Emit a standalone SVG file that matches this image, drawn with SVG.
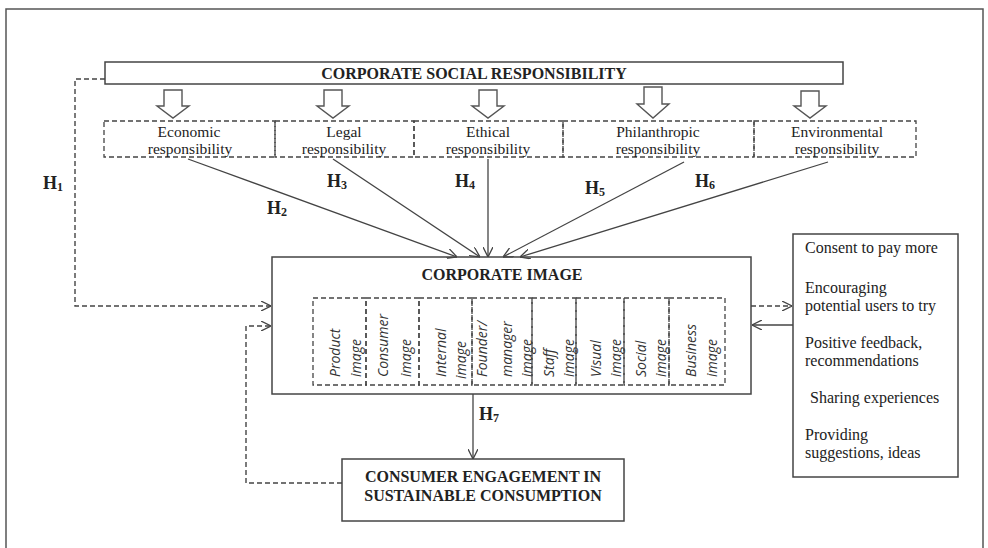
<svg xmlns="http://www.w3.org/2000/svg" width="988" height="548" viewBox="0 0 988 548">
<style>
  .bg{fill:#fff}
  .frame{fill:none;stroke:#555;stroke-width:1.5}
  .box{fill:#fff;stroke:#444;stroke-width:1.5}
  .dbox{fill:none;stroke:#444;stroke-width:1.3;stroke-dasharray:5,3}
  .harrow{fill:#fff;stroke:#555;stroke-width:1.4}
  .ln{fill:none;stroke:#444;stroke-width:1.3}
  .dl{fill:none;stroke:#444;stroke-width:1.4;stroke-dasharray:5,3}
  .t{font-family:"Liberation Serif","Times New Roman",serif;fill:#222}
  .b{font-weight:bold;font-size:16px}
  .r{font-size:15.5px}
  .h{font-family:"Liberation Serif","Times New Roman",serif;font-weight:bold;font-size:18px;fill:#222}
  .sub{font-size:12px}
  .v{font-family:"Open Sans","Noto Sans",sans-serif;font-style:italic;font-size:14px;fill:#333}
</style>
<defs>
  <marker id="arr" viewBox="0 0 10 10" refX="10" refY="5" markerWidth="10" markerHeight="10" orient="auto" markerUnits="userSpaceOnUse">
    <path d="M0,0 L10,5 L0,10" fill="none" stroke="#444" stroke-width="1.3"/>
  </marker>
</defs>
<rect class="bg" x="0" y="0" width="988" height="548"/>
<path class="frame" d="M6,560 V9 H983 V560"/>

<g id="csr">
  <rect class="box" x="105" y="62" width="738" height="22"/>
  <text class="t b" x="474" y="79" text-anchor="middle">CORPORATE SOCIAL RESPONSIBILITY</text>
</g>

<g id="csr-arrows">
  <path class="harrow" d="M164,90 H182 V106 H189 L173,118 L157,106 H164 Z"/>
  <path class="harrow" d="M324,90 H342 V106 H349 L333,118 L317,106 H324 Z"/>
  <path class="harrow" d="M479,90 H497 V106 H504 L488,118 L472,106 H479 Z"/>
  <path class="harrow" d="M644,87 H662 V104 H669 L653,118 L637,104 H644 Z"/>
  <path class="harrow" d="M801,91 H819 V106 H826 L810,118 L794,106 H801 Z"/>
</g>

<g id="economic">
  <rect class="dbox" x="104" y="121" width="171" height="36"/>
  <text class="t r" x="189" y="137" text-anchor="middle">Economic</text>
  <text class="t r" x="190" y="154" text-anchor="middle">responsibility</text>
</g>
<g id="legal">
  <rect class="dbox" x="275" y="121" width="139" height="36"/>
  <text class="t r" x="344" y="137" text-anchor="middle">Legal</text>
  <text class="t r" x="344" y="154" text-anchor="middle">responsibility</text>
</g>
<g id="ethical">
  <rect class="dbox" x="414" y="121" width="149" height="36"/>
  <text class="t r" x="488" y="137" text-anchor="middle">Ethical</text>
  <text class="t r" x="488" y="154" text-anchor="middle">responsibility</text>
</g>
<g id="philanthropic">
  <rect class="dbox" x="563" y="121" width="191" height="36"/>
  <text class="t r" x="658" y="137" text-anchor="middle">Philanthropic</text>
  <text class="t r" x="658" y="154" text-anchor="middle">responsibility</text>
</g>
<g id="environmental">
  <rect class="dbox" x="754" y="121" width="162" height="36"/>
  <text class="t r" x="837" y="137" text-anchor="middle">Environmental</text>
  <text class="t r" x="837" y="154" text-anchor="middle">responsibility</text>
</g>

<g id="corporate-image">
  <rect class="box" x="272" y="257" width="479" height="137"/>
  <text class="t b" x="502" y="280" text-anchor="middle">CORPORATE IMAGE</text>
  <g id="img-product">
    <rect class="dbox" x="313" y="298" width="53" height="87"/>
    <text class="v" transform="translate(340,377) rotate(-90)">Product</text>
    <text class="v" transform="translate(361,377) rotate(-90)">image</text>
  </g>
  <g id="img-consumer">
    <rect class="dbox" x="366" y="298" width="53" height="87"/>
    <text class="v" transform="translate(388,377) rotate(-90)">Consumer</text>
    <text class="v" transform="translate(411,377) rotate(-90)">image</text>
  </g>
  <g id="img-internal">
    <rect class="dbox" x="419" y="298" width="53" height="87"/>
    <text class="v" transform="translate(446,377) rotate(-90)">Internal</text>
    <text class="v" transform="translate(466,379) rotate(-90)">image</text>
  </g>
  <g id="img-founder">
    <rect class="dbox" x="472" y="298" width="60" height="87"/>
    <text class="v" transform="translate(487,377) rotate(-90)">Founder/</text>
    <text class="v" transform="translate(512,377) rotate(-90)">manager</text>
    <text class="v" transform="translate(532,377) rotate(-90)">image</text>
  </g>
  <g id="img-staff">
    <rect class="dbox" x="532" y="298" width="44" height="87"/>
    <text class="v" transform="translate(554,377) rotate(-90)">Staff</text>
    <text class="v" transform="translate(574,377) rotate(-90)">image</text>
  </g>
  <g id="img-visual">
    <rect class="dbox" x="576" y="298" width="48" height="87"/>
    <text class="v" transform="translate(601,377) rotate(-90)">Visual</text>
    <text class="v" transform="translate(621,377) rotate(-90)">image</text>
  </g>
  <g id="img-social">
    <rect class="dbox" x="624" y="298" width="45" height="87"/>
    <text class="v" transform="translate(646,377) rotate(-90)">Social</text>
    <text class="v" transform="translate(666,377) rotate(-90)">image</text>
  </g>
  <g id="img-business">
    <rect class="dbox" x="669" y="298" width="56" height="87"/>
    <text class="v" transform="translate(696,377) rotate(-90)">Business</text>
    <text class="v" transform="translate(717,377) rotate(-90)">image</text>
  </g>
</g>

<g id="engagement">
  <rect class="box" x="342" y="459" width="282" height="62"/>
  <text class="t b" x="483" y="482" text-anchor="middle">CONSUMER ENGAGEMENT IN</text>
  <text class="t b" x="483" y="501" text-anchor="middle">SUSTAINABLE CONSUMPTION</text>
</g>

<g id="behaviours">
  <rect class="box" x="793" y="234" width="165" height="243"/>
  <text class="t" font-size="16" x="805" y="253">Consent to pay more</text>
  <text class="t" font-size="16" x="805" y="293">Encouraging</text>
  <text class="t" font-size="16" x="805" y="311">potential users to try</text>
  <text class="t" font-size="16" x="805" y="348">Positive feedback,</text>
  <text class="t" font-size="16" x="805" y="366">recommendations</text>
  <text class="t" font-size="16" x="810" y="403">Sharing experiences</text>
  <text class="t" font-size="16" x="805" y="440">Providing</text>
  <text class="t" font-size="16" x="805" y="458">suggestions, ideas</text>
</g>

<g id="connectors">
  <path class="dl" d="M105,79 H75 V306 H271" marker-end="url(#arr)"/>
  <path class="dl" d="M342,483 H246 V326 H271" marker-end="url(#arr)"/>
  <path class="ln" d="M188,159 L457,257" marker-end="url(#arr)"/>
  <path class="ln" d="M333,159 L480,257" marker-end="url(#arr)"/>
  <path class="ln" d="M488,159 L488,257" marker-end="url(#arr)"/>
  <path class="ln" d="M684,162 L503,257" marker-end="url(#arr)"/>
  <path class="ln" d="M828,162 L520,257" marker-end="url(#arr)"/>
  <path class="ln" d="M473,394 V459" marker-end="url(#arr)"/>
  <path class="dl" d="M751,306 H792" marker-end="url(#arr)"/>
  <path class="ln" d="M793,325 H752" marker-end="url(#arr)"/>
</g>

<g id="labels">
  <text class="h" x="43" y="189">H<tspan class="sub" dy="2">1</tspan></text>
  <text class="h" x="267" y="214">H<tspan class="sub" dy="2">2</tspan></text>
  <text class="h" x="327" y="187">H<tspan class="sub" dy="2">3</tspan></text>
  <text class="h" x="455" y="187">H<tspan class="sub" dy="2">4</tspan></text>
  <text class="h" x="585" y="194">H<tspan class="sub" dy="2">5</tspan></text>
  <text class="h" x="695" y="187">H<tspan class="sub" dy="2">6</tspan></text>
  <text class="h" x="479" y="420">H<tspan class="sub" dy="2">7</tspan></text>
</g>
</svg>
